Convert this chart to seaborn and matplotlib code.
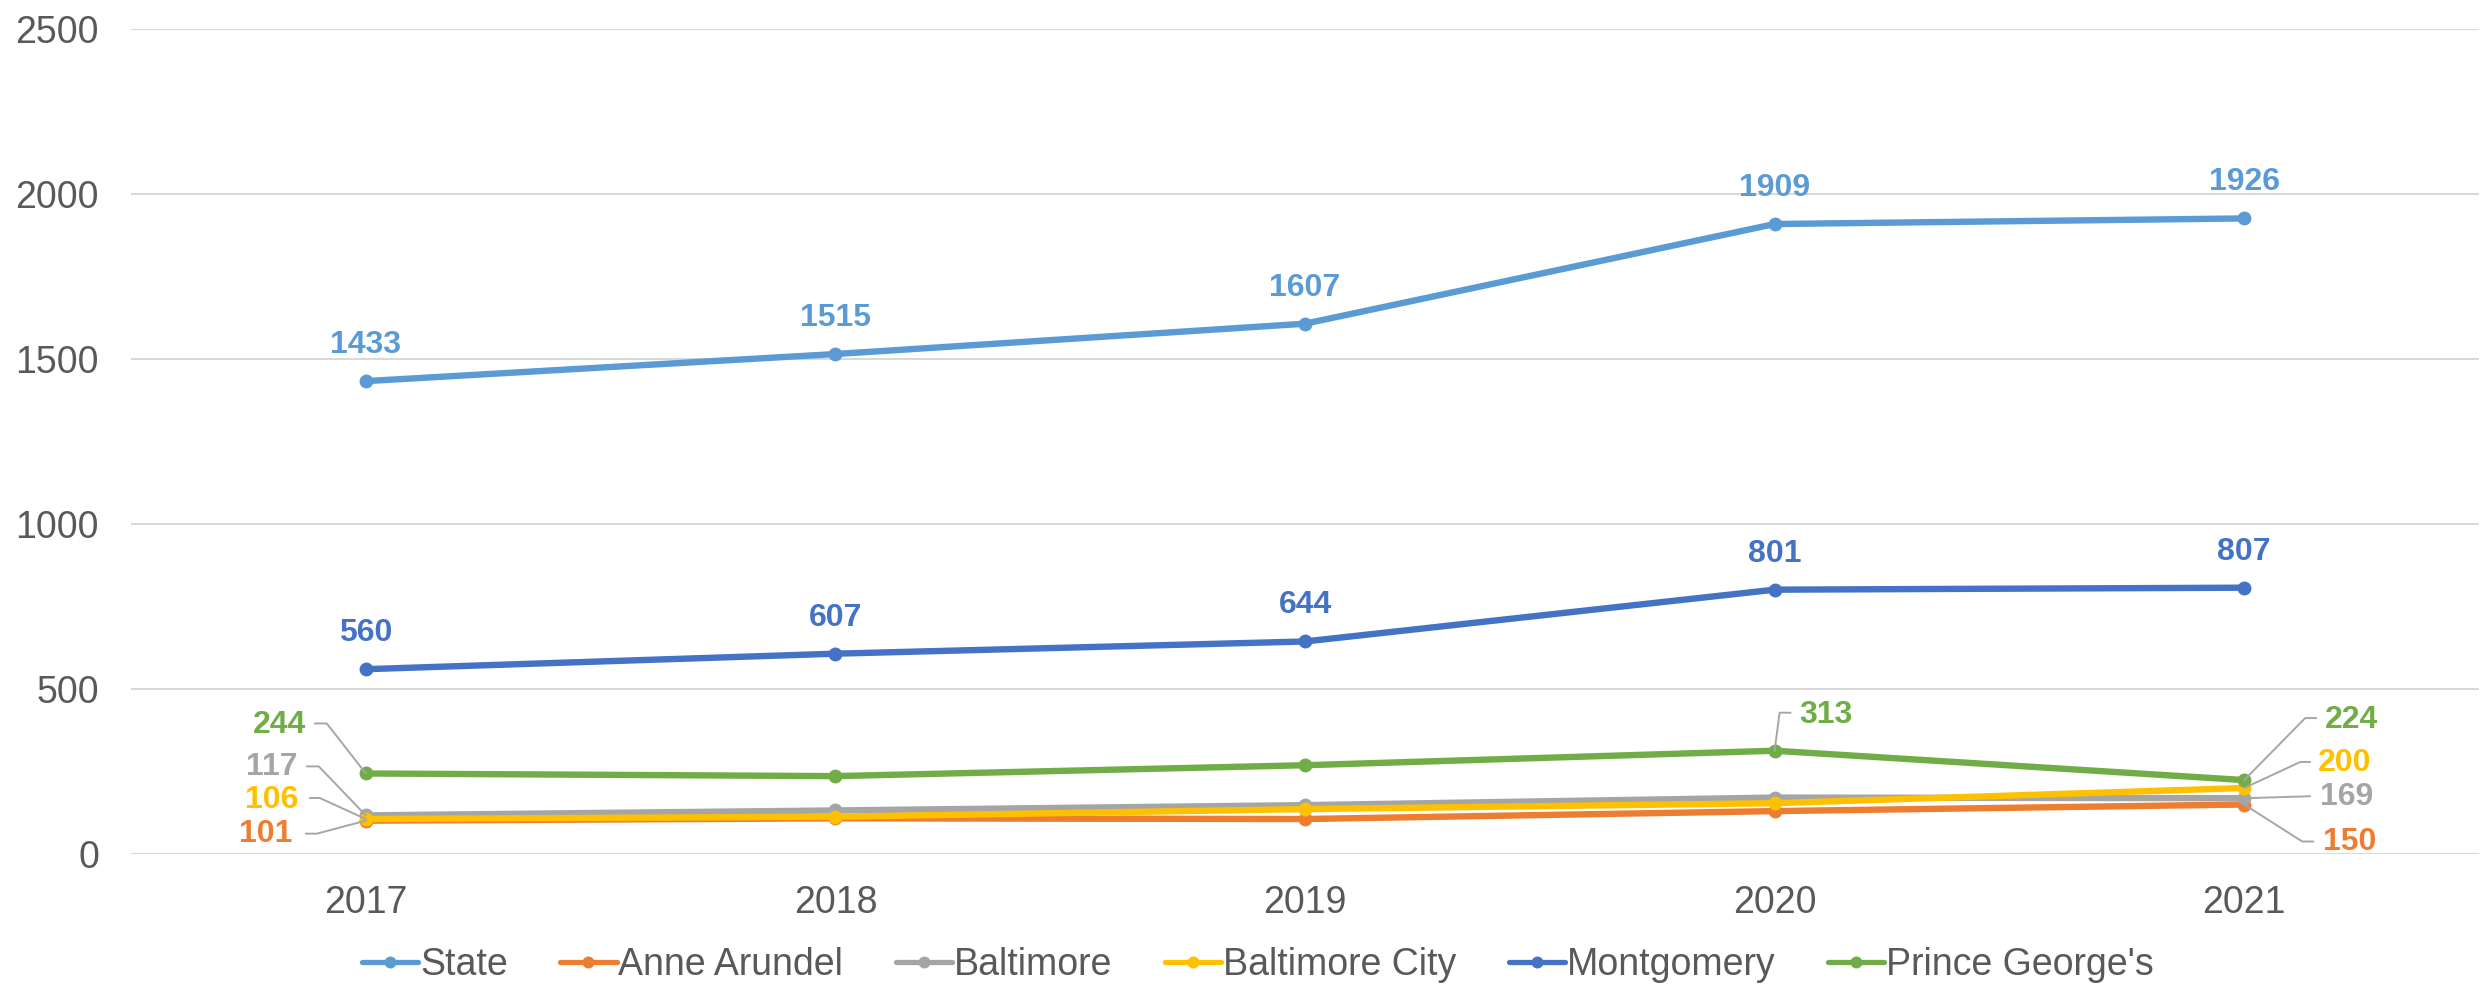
import numpy as np
import pandas as pd
import matplotlib
matplotlib.use("Agg")
import matplotlib.pyplot as plt
import seaborn as sns
from matplotlib.transforms import IdentityTransform
from matplotlib.lines import Line2D

# ---------------- data ----------------
years = ["2017", "2018", "2019", "2020", "2021"]
state = [1433, 1515, 1607, 1909, 1926]
anne_arundel = [101, 108, 106, 130, 150]
baltimore = [117, 132, 148, 171, 169]
baltimore_city = [106, 113, 136, 154, 200]
montgomery = [560, 607, 644, 801, 807]
prince_georges = [244, 236, 269, 313, 224]

series_names = ["State", "Anne Arundel", "Baltimore", "Baltimore City",
                "Montgomery", "Prince George's"]
series_values = [state, anne_arundel, baltimore, baltimore_city,
                 montgomery, prince_georges]
colors = ["#5B9BD5", "#ED7D31", "#A5A5A5", "#FFC000", "#4472C4", "#70AD47"]

rows = []
for name, vals in zip(series_names, series_values):
    for y, v in zip(years, vals):
        rows.append({"Year": y, "Series": name, "Value": v})
df = pd.DataFrame(rows)

# ---------------- figure ----------------
sns.set_theme(style="white")
plt.rcParams["font.family"] = ["Liberation Sans", "DejaVu Sans"]

DPI = 100
fig = plt.figure(figsize=(24.81, 9.85), dpi=DPI)
ax = fig.add_axes([131 / 2481, 1 - 854 / 985, (2479 - 131) / 2481, (854 - 29) / 985])

sns.lineplot(data=df, x="Year", y="Value", hue="Series", hue_order=series_names,
             palette=colors, marker="o", markersize=10, markeredgewidth=0,
             linewidth=4.6, ax=ax, legend=False, sort=False)

ax.set_xlim(-0.5, 4.5)
ax.set_ylim(0, 2500)
ax.set_yticks([0, 500, 1000, 1500, 2000, 2500])
ax.set_xticks(range(len(years)))
ax.set_xticklabels(years)
ax.set_xlabel("")
ax.set_ylabel("")
for s in ax.spines.values():
    s.set_visible(False)
ax.grid(axis="y", color="#D9D9D9", linewidth=1.5)
ax.grid(axis="x", visible=False)
ax.set_axisbelow(True)
ax.tick_params(axis="y", length=0, pad=23, labelsize=27, labelcolor="#595959")
ax.tick_params(axis="x", length=0, pad=22, labelsize=27, labelcolor="#595959")

# ---------------- data labels ----------------
lbl_fs = 23
for name, vals, col in zip(series_names, series_values, colors):
    if name in ("State", "Montgomery"):
        for i, v in enumerate(vals):
            ax.annotate(str(v), xy=(i, v), xytext=(0, 36), textcoords="offset pixels",
                        ha="center", va="center", fontsize=lbl_fs,
                        fontweight="bold", color=col)

# labels with leader lines: (series, index, text offset, ha, leader offsets)
leader_specs = [
    ("Prince George's", 0, (-60, 48), "right", [(-51, 50), (-39, 50)]),
    ("Baltimore", 0, (-68, 48), "right", [(-59, 49), (-47, 49)]),
    ("Baltimore City", 0, (-67, 19), "right", [(-56, 21), (-46, 21)]),
    ("Anne Arundel", 0, (-73, -13), "right", [(-60, -13), (-49, -13)]),
    ("Prince George's", 3, (25, 36), "left", [(16, 38), (5, 38)]),
    ("Prince George's", 4, (81, 60), "left", [(72, 62), (61, 62)]),
    ("Baltimore City", 4, (74, 25), "left", [(66, 26), (56, 26)]),
    ("Baltimore", 4, (76, 1), "left", [(66, 2)]),
    ("Anne Arundel", 4, (79, -37), "left", [(69, -37), (58, -37)]),
]
fig.canvas.draw()
for name, idx, (dx, dy), ha, leader in leader_specs:
    k = series_names.index(name)
    v = series_values[k][idx]
    col = colors[k]
    ax.annotate(str(v), xy=(idx, v), xytext=(dx, dy), textcoords="offset pixels",
                ha=ha, va="center", fontsize=lbl_fs, fontweight="bold", color=col)
    px, py = ax.transData.transform((idx, v))
    xs = [px + ox for ox, oy in leader] + [px]
    ys = [py + oy for ox, oy in leader] + [py]
    ln = Line2D(xs, ys, transform=IdentityTransform(), color="#A6A6A6",
                linewidth=1.4, zorder=1)
    fig.add_artist(ln)

# ---------------- legend ----------------
handles = [Line2D([0], [0], color=c, linewidth=3.8, marker="o", markersize=8.6,
                  markeredgewidth=0) for c in colors]
leg = fig.legend(handles, series_names, loc="center", bbox_to_anchor=(0.507, 0.0205),
                 ncol=6, frameon=False, fontsize=27, handlelength=1.5,
                 handletextpad=0.05, columnspacing=1.4)
for t in leg.get_texts():
    t.set_color("#595959")

fig.savefig("out.png", dpi=DPI)
